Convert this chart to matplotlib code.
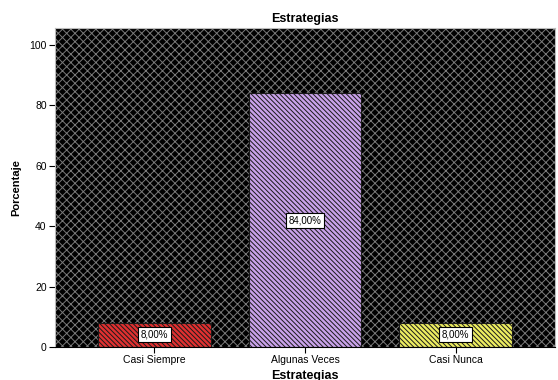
import matplotlib
matplotlib.use("Agg")
import matplotlib.pyplot as plt
from matplotlib.patches import Rectangle

categories = ["Casi Siempre", "Algunas Veces", "Casi Nunca"]
values = [8.0, 84.0, 8.0]
labels = ["8,00%", "84,00%", "8,00%"]
colors = ["#e03030", "#c9a2ea", "#ecec60"]
yticks = [0, 20, 40, 60, 80, 100]

plt.rcParams['font.family'] = ['Liberation Sans', 'DejaVu Sans']

fig = plt.figure(figsize=(5.58, 3.80), dpi=100)
ax = fig.add_axes([55/558, 1-347/380, 500/558, (347-28)/380])
ax.set_facecolor("black")
with plt.rc_context({'hatch.linewidth': 0.7}):
    bg = Rectangle((0, 0), 1, 1, transform=ax.transAxes, facecolor="black",
                   edgecolor="#7a7a7a", hatch="xxxx", linewidth=0, zorder=0)
    ax.add_patch(bg)

x = list(range(len(categories)))
with plt.rc_context({'hatch.linewidth': 0.7}):
    bars = ax.bar(x, values, width=0.75, color=colors, edgecolor="#1a1a1a",
                  hatch="\\\\\\\\\\\\\\", linewidth=0.8, zorder=2)
for xi, v, lab in zip(x, values, labels):
    ax.text(xi, v/2, lab, ha="center", va="center", fontsize=7, zorder=3,
            bbox=dict(boxstyle="square,pad=0.25", facecolor="white", edgecolor="black", linewidth=0.8))

ax.set_xlim(-0.66, 2.66)
ax.set_ylim(0, 105.6)
ax.set_xticks(x)
ax.set_xticklabels(categories, fontsize=7.5)
ax.set_yticks(yticks)
ax.set_yticklabels([str(t) for t in yticks], fontsize=7.5)
ax.tick_params(length=4, width=0.8, pad=2)
for s in ax.spines.values():
    s.set_color("#bbbbbb")
ax.spines['bottom'].set_color("black")
ax.set_ylabel("Porcentaje", fontsize=8, fontweight="bold", labelpad=6)
ax.set_xlabel("Estrategias", fontsize=9, fontweight="bold", labelpad=3)
ax.set_title("Estrategias", fontsize=9, fontweight="bold", pad=4)

fig.savefig("out.png", dpi=100)
